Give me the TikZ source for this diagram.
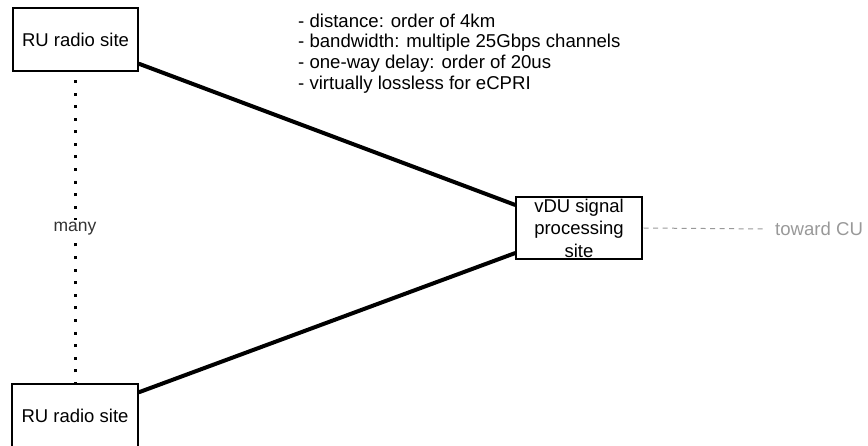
\documentclass[tikz,border=0pt]{standalone}
\usepackage{fontspec}
\setmainfont{Liberation Sans}
\usetikzlibrary{backgrounds}
\definecolor{softgray}{HTML}{999999}
\definecolor{darkgray}{HTML}{333333}
\begin{document}
\begin{tikzpicture}[x=1pt,y=-1pt,
  site/.style={draw=black, line width=1.3pt, fill=white, inner sep=0pt,
    minimum width=126pt, minimum height=63pt, align=center,
    font=\fontsize{18.5pt}{22.5pt}\selectfont},
  fronthaul/.style={line width=4pt},
  dotline/.style={line width=3pt, dash pattern=on 3pt off 9.58pt},
  cuedge/.style={draw=softgray, line width=1pt, dash pattern=on 5pt off 4.5pt},
  plain/.style={inner sep=0pt, font=\fontsize{18.6pt}{20.7pt}\selectfont}
]
\useasboundingbox (0,0) rectangle (868,446);

% the two radio sites and the processing site
\node[site, minimum width=125pt] (topru) at (75.5,39.5) {RU radio site};
\node[site] (botru) at (75,415.5) {RU radio site};
\node[site, minimum height=62pt] (vdu) at (579,228) {vDU signal\\processing\\site};

% fronthaul links, kept behind the boxes
\begin{scope}[on background layer]
  \draw[fronthaul] ([yshift=8pt]topru.south east) -- ([yshift=23pt]vdu.west);
  \draw[fronthaul] ([yshift=-9pt]botru.north east) -- ([yshift=-25pt]vdu.west);
  % "many" sites between the two shown
  \draw[dotline] ([yshift=-1.5pt]botru.north) -- (botru.north |- topru.south);
\end{scope}
\node[plain, fill=white, text=darkgray, font=\fontsize{17.5pt}{20pt}\selectfont, inner sep=2pt]
  (many) at (75,229) {many};

% onward link toward the CU
\node[plain, text=softgray, anchor=west] (cu) at (775,229) {toward CU};
\draw[cuedge] ([xshift=1pt]vdu.east) -- ([xshift=-10pt]cu.west);

% link characteristics
\node[plain, anchor=north west, align=left] (notes) at (298,13.5)
  {- distance: order of 4km\\
   - bandwidth: multiple 25Gbps channels\\
   - one-way delay: order of 20us\\
   - virtually lossless for eCPRI};
\end{tikzpicture}
\end{document}
